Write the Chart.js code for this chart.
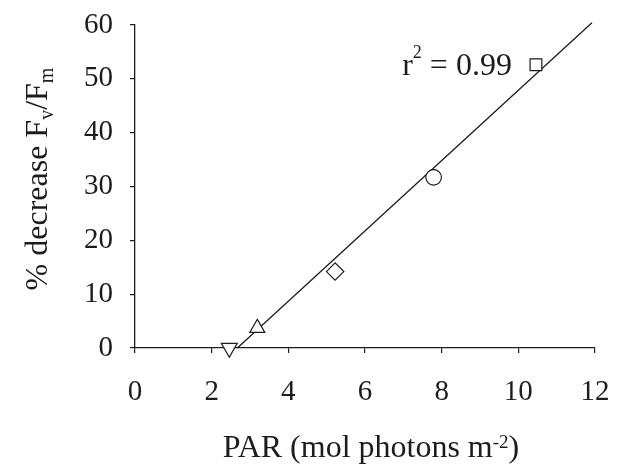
<!DOCTYPE html>
<html>
<head>
<meta charset="utf-8">
<script src="https://cdn.jsdelivr.net/npm/chart.js@4/dist/chart.umd.min.js"></script>
<style>
  html, body { margin: 0; padding: 0; background: #fff; }
  #wrap { width: 618px; height: 474px; }
</style>
</head>
<body>
<div id="wrap"><canvas id="chart" width="618" height="474"></canvas></div>
<script>
// data
const parValues = [2.46, 3.19, 5.22, 7.79, 10.46];
const decreaseValues = [0, 3.7, 14.2, 31.7, 52.6];
const fitLineX = [2.67, 11.92];
const fitLineY = [0, 60.4];
const xTickValues = [0, 2, 4, 6, 8, 10, 12];
const yTickValues = [0, 10, 20, 30, 40, 50, 60];
const rSquaredText = "0.99";

// marker per point
const markerShapes = ["triangle", "triangle", "rectRot", "circle", "rect"];
const markerRotations = [180, 0, 0, 0, 0];
const markerSizes = [9.2, 8.7, 8.7, 7.8, 8.3];

const INK = "#1c1c1c";
const FONT = "'Liberation Serif', 'Times New Roman', serif";
const TICK = 29;
const BIG = 32;
const SMALL = 19;

function drawRuns(ctx, runs, x, y, align) {
  let total = 0;
  runs.forEach(r => {
    ctx.font = `${r.size}px ${FONT}`;
    r.w = ctx.measureText(r.text).width;
    total += r.w;
  });
  let cx = align === "center" ? x - total / 2 : x;
  runs.forEach(r => {
    ctx.font = `${r.size}px ${FONT}`;
    ctx.fillText(r.text, cx, y + (r.shift || 0));
    cx += r.w;
  });
}

const textPlugin = {
  id: "textPlugin",
  afterDraw(chart) {
    const { ctx, chartArea, scales } = chart;
    ctx.save();
    ctx.fillStyle = INK;
    ctx.textBaseline = "alphabetic";
    ctx.textAlign = "left";

    // x axis title
    drawRuns(ctx, [
      { text: "PAR (mol photons m", size: BIG },
      { text: "-2", size: SMALL, shift: -9 },
      { text: ")", size: BIG }
    ], (chartArea.left + chartArea.right) / 2 + 6, 457, "center");

    // y axis title
    ctx.save();
    ctx.translate(47, 179);
    ctx.rotate(-Math.PI / 2);
    drawRuns(ctx, [
      { text: "% decrease F", size: BIG },
      { text: "v", size: SMALL + 1, shift: 6 },
      { text: "/F", size: BIG },
      { text: "m", size: SMALL + 1, shift: 6 }
    ], 0, 0, "center");
    ctx.restore();

    // r squared note
    const ax = scales.x.getPixelForValue(6.97);
    const ay = scales.y.getPixelForValue(50.8);
    drawRuns(ctx, [
      { text: "r", size: BIG },
      { text: "2", size: SMALL - 1, shift: -17 },
      { text: " = " + rSquaredText, size: BIG }
    ], ax, ay, "left");

    ctx.restore();
  }
};

const points = parValues.map((x, i) => ({ x, y: decreaseValues[i] }));
const fitLine = fitLineX.map((x, i) => ({ x, y: fitLineY[i] }));

new Chart(document.getElementById("chart"), {
  type: "scatter",
  data: {
    datasets: [
      {
        data: points,
        order: 0,
        clip: false,
        pointStyle: markerShapes,
        rotation: markerRotations,
        pointRadius: markerSizes,
        pointBackgroundColor: "#fff",
        pointBorderColor: INK,
        pointBorderWidth: 1.2
      },
      {
        data: fitLine,
        order: 1,
        clip: false,
        showLine: true,
        pointRadius: 0,
        borderColor: INK,
        borderWidth: 1.3
      }
    ]
  },
  options: {
    responsive: false,
    animation: false,
    layout: { padding: { left: 0, top: 25, right: 23, bottom: 0 } },
    plugins: {
      legend: { display: false },
      tooltip: { enabled: false }
    },
    scales: {
      x: {
        type: "linear",
        min: 0,
        max: 12,
        afterBuildTicks: axis => { axis.ticks = xTickValues.map(v => ({ value: v })); },
        afterFit: axis => {
          axis.height = 126;
          axis.paddingLeft = 0;
          axis.paddingRight = 0;
        },
        grid: { drawOnChartArea: false, drawTicks: true, tickLength: 5, color: INK, lineWidth: 1.2 },
        border: { display: true, color: INK, width: 1.3 },
        ticks: { color: INK, padding: 22, maxRotation: 0, font: { family: FONT, size: TICK } }
      },
      y: {
        type: "linear",
        min: 0,
        max: 60,
        afterBuildTicks: axis => { axis.ticks = yTickValues.map(v => ({ value: v })); },
        afterFit: axis => {
          axis.width = 135;
          axis.paddingTop = 0;
          axis.paddingBottom = 0;
        },
        grid: { drawOnChartArea: false, drawTicks: true, tickLength: 5, color: INK, lineWidth: 1.2 },
        border: { display: true, color: INK, width: 1.3 },
        ticks: { color: INK, padding: 17, font: { family: FONT, size: TICK } }
      }
    }
  },
  plugins: [textPlugin]
});
</script>
</body>
</html>
